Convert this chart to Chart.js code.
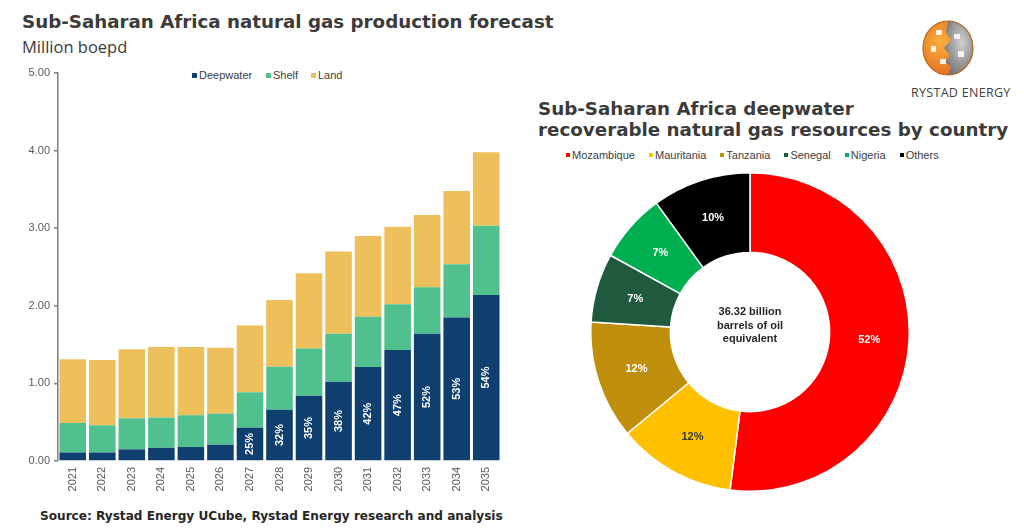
<!DOCTYPE html>
<html><head><meta charset="utf-8">
<script src="https://cdn.jsdelivr.net/npm/chart.js@4.4.1/dist/chart.umd.min.js"></script>
<style>
html,body{margin:0;padding:0;background:#fff;width:1024px;height:530px;overflow:hidden;position:relative;font-family:"Liberation Sans",Arial,sans-serif;}
.abs{position:absolute;white-space:nowrap;}
#t1{left:22px;top:11px;font:bold 18.25px "DejaVu Sans",sans-serif;color:#3b3b3b;}
#t1s{left:22px;top:35px;font:16.5px "Open Sans",sans-serif;color:#3b3b3b;}
#t2{left:538px;top:98px;font:bold 18.3px/21px "DejaVu Sans",sans-serif;color:#3b3b3b;}
#src{left:40px;top:509px;font:bold 12.1px "DejaVu Sans",sans-serif;color:#262626;}
#logoTxt{left:911px;top:84px;font:12.5px "Open Sans",sans-serif;color:#404040;letter-spacing:0.3px;}
.leg{font:11px "Liberation Sans",Arial,sans-serif;color:#404040;}
.leg i{display:inline-block;vertical-align:middle;margin-right:2px;position:relative;top:-1px;}
#center{left:670px;top:305px;width:160px;text-align:center;font:bold 11px/13.5px "Liberation Sans",Arial,sans-serif;color:#262626;}
#barWrap{left:0;top:60px;width:510px;height:445px;}
#pieWrap{left:590px;top:172px;width:320px;height:320px;}
</style></head>
<body>
<div class="abs" id="t1">Sub-Saharan Africa natural gas production forecast</div>
<div class="abs" id="t1s">Million boepd</div>
<div class="abs" id="t2">Sub-Saharan Africa deepwater<br>recoverable natural gas resources by country</div>
<div class="abs" id="src">Source: Rystad Energy UCube, Rystad Energy research and analysis</div>
<div class="abs" id="logoTxt">RYSTAD ENERGY</div>
<svg class="abs" style="left:921px;top:19px" width="54" height="58" viewBox="0 0 54 58">
 <defs>
  <radialGradient id="go" cx="35%" cy="40%" r="70%"><stop offset="0" stop-color="#fbb040"/><stop offset="1" stop-color="#e0661a"/></radialGradient>
  <radialGradient id="gg" cx="60%" cy="40%" r="70%"><stop offset="0" stop-color="#d0d0d0"/><stop offset="1" stop-color="#6f6f6f"/></radialGradient>
 </defs>
 <ellipse cx="27" cy="29" rx="25" ry="27" fill="url(#go)"/>
 <path d="M27 2 A25 27 0 0 1 27 56 L30 48 L24 43 L29 36 L23 29 L30 21 L25 13 Z" fill="url(#gg)"/>
 <rect x="15" y="11" width="6" height="5" fill="#fff" opacity="0.85"/>
 <rect x="33" y="15" width="6" height="5" fill="#fff" opacity="0.85"/>
 <rect x="10" y="27" width="5" height="6" fill="#fff" opacity="0.85"/>
 <rect x="37" y="32" width="6" height="6" fill="#fff" opacity="0.85"/>
 <rect x="19" y="40" width="6" height="5" fill="#fff" opacity="0.85"/>
 <ellipse cx="27" cy="29" rx="25" ry="27" fill="none" stroke="#b5651d" stroke-width="1.2"/>
</svg>

<div class="abs leg" style="left:192px;top:69px"><i style="width:5px;height:5px;background:#0e3f6f"></i>Deepwater</div>
<div class="abs leg" style="left:266px;top:69px"><i style="width:5px;height:5px;background:#50c08f"></i>Shelf</div>
<div class="abs leg" style="left:311px;top:69px"><i style="width:5px;height:5px;background:#eec05c"></i>Land</div>

<div class="abs leg" id="pieLeg" style="left:566px;top:149px"></div>

<div class="abs" id="barWrap"><canvas id="bar"></canvas></div>
<div class="abs" id="pieWrap"><canvas id="pie"></canvas></div>
<div class="abs" id="center">36.32 billion<br>barrels of oil<br>equivalent</div>

<script>
// ---- Bar chart data (million boepd) ----
const years = ['2021','2022','2023','2024','2025','2026','2027','2028','2029','2030','2031','2032','2033','2034','2035'];
const deepwater = [0.11,0.11,0.15,0.17,0.18,0.21,0.43,0.66,0.84,1.02,1.21,1.43,1.64,1.85,2.14];
const shelf     = [0.38,0.35,0.40,0.39,0.41,0.40,0.455,0.555,0.61,0.62,0.65,0.59,0.60,0.685,0.89];
const land      = [0.82,0.84,0.89,0.91,0.88,0.85,0.86,0.86,0.97,1.06,1.04,1.00,0.93,0.945,0.95];
const deepShareLabels = [null,null,null,null,null,null,'25%','32%','35%','38%','42%','47%','52%','53%','54%'];
const yTicks = [0,1,2,3,4,5];

// ---- Donut data (% of deepwater recoverable gas resources) ----
const countries = ['Mozambique','Mauritania','Tanzania','Senegal','Nigeria','Others'];
const shares    = [52,12,12,7,7,10];
const shareLabels = ['52%','12%','12%','7%','7%','10%'];

const countryColors = ['#fe0000','#ffc000','#bf8f0c','#1f5a3e','#00b050','#000000'];
const labelColors = ['#ffffff','#3a3a3a','#ffffff','#ffffff','#ffffff','#ffffff'];

// pie legend
const pl = document.getElementById('pieLeg');
countries.forEach((c,i)=>{
  const s = document.createElement('span');
  s.style.marginRight = '14px';
  s.innerHTML = '<i style="width:4px;height:4px;background:'+countryColors[i]+'"></i>'+c;
  pl.appendChild(s);
});

const barLabelPlugin = {
  id:'barLabels',
  afterDatasetsDraw(chart){
    const meta = chart.getDatasetMeta(0);
    const ctx = chart.ctx;
    ctx.save();
    ctx.font = 'bold 11px "Liberation Sans", Arial, sans-serif';
    ctx.fillStyle = '#ffffff';
    ctx.textAlign = 'center';
    ctx.textBaseline = 'middle';
    meta.data.forEach((el,i)=>{
      const t = deepShareLabels[i];
      if(!t) return;
      const p = el.getProps(['x','y','base'], true);
      const cy = (p.y + p.base)/2;
      ctx.save();
      ctx.translate(p.x, cy);
      ctx.rotate(-Math.PI/2);
      ctx.fillText(t, 0, 0);
      ctx.restore();
    });
    ctx.restore();
  }
};

new Chart(document.getElementById('bar'), {
  type:'bar',
  data:{
    labels: years,
    datasets:[
      {label:'Deepwater', data:deepwater, backgroundColor:'#0e3f6f'},
      {label:'Shelf', data:shelf, backgroundColor:'#50c08f'},
      {label:'Land', data:land, backgroundColor:'#eec05c'}
    ]
  },
  options:{
    responsive:true, maintainAspectRatio:false, animation:false,
    layout:{padding:{top:13,left:0,right:9,bottom:0}},
    datasets:{bar:{barPercentage:0.9, categoryPercentage:1.0, borderWidth:0}},
    plugins:{legend:{display:false}, tooltip:{enabled:false}},
    scales:{
      x:{stacked:true,
         grid:{display:false, drawTicks:false},
         border:{display:false},
         ticks:{minRotation:90, maxRotation:90, padding:6, color:'#595959', font:{family:'"Liberation Sans", Arial, sans-serif', size:11}},
         afterFit(s){ s.height = 44; }
      },
      y:{stacked:true, min:0, max:5,
         afterBuildTicks(s){ s.ticks = yTicks.map(v=>({value:v})); },
         grid:{drawOnChartArea:false, drawTicks:true, tickLength:4, color:'#7f7f7f', lineWidth:1.5},
         border:{display:true, color:'#7f7f7f', width:1.5},
         ticks:{padding:4, color:'#595959', font:{family:'"Liberation Sans", Arial, sans-serif', size:11}, callback:v=>Number(v).toFixed(2)},
         afterFit(s){ s.width = 58; }
      }
    }
  },
  plugins:[barLabelPlugin]
});

const pieLabelPlugin = {
  id:'pieLabels',
  afterDatasetsDraw(chart){
    const meta = chart.getDatasetMeta(0);
    const ctx = chart.ctx;
    ctx.save();
    ctx.font = 'bold 11px "Liberation Sans", Arial, sans-serif';
    ctx.textAlign = 'center';
    ctx.textBaseline = 'middle';
    meta.data.forEach((el,i)=>{
      const p = el.tooltipPosition(true);
      ctx.fillStyle = labelColors[i];
      ctx.fillText(shareLabels[i], p.x, p.y);
    });
    ctx.restore();
  }
};

new Chart(document.getElementById('pie'), {
  type:'doughnut',
  data:{labels:countries, datasets:[{data:shares, backgroundColor:countryColors, borderColor:'#ffffff', borderWidth:1.5}]},
  options:{
    responsive:true, maintainAspectRatio:false, animation:false,
    cutout:'50%',
    layout:{padding:0},
    plugins:{legend:{display:false}, tooltip:{enabled:false}}
  },
  plugins:[pieLabelPlugin]
});
</script>
</body></html>
